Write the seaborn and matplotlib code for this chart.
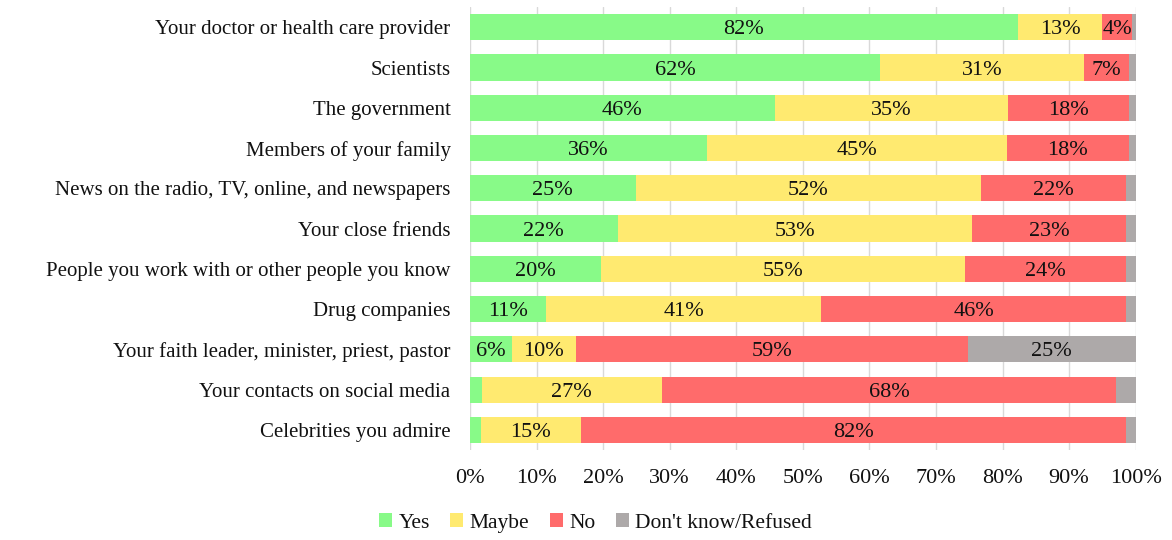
import matplotlib
matplotlib.use("Agg")
import matplotlib.pyplot as plt
import seaborn as sns
import pandas as pd
import numpy as np
from matplotlib.patches import Patch

categories = [
    "Your doctor or health care provider",
    "Scientists",
    "The government",
    "Members of your family",
    "News on the radio, TV, online, and newspapers",
    "Your close friends",
    "People you work with or other people you know",
    "Drug companies",
    "Your faith leader, minister, priest, pastor",
    "Your contacts on social media",
    "Celebrities you admire",
]
yes = [82.3, 61.6, 45.8, 35.6, 24.9, 22.2, 19.7, 11.4, 6.3, 1.8, 1.6]
maybe = [12.7, 30.6, 35.0, 45.0, 51.8, 53.2, 54.6, 41.4, 9.6, 27.0, 15.1]
no = [4.4, 6.8, 18.2, 18.4, 21.9, 23.2, 24.3, 45.8, 58.9, 68.3, 81.9]
dk = [0.6, 1.0, 1.0, 1.0, 1.4, 1.4, 1.4, 1.4, 25.2, 2.9, 1.4]

series_names = ["Yes", "Maybe", "No", "Don't know/Refused"]
colors = ["#88FA88", "#FFEA70", "#FF6B6B", "#ADA9A9"]
tick_labels = ["0%", "10%", "20%", "30%", "40%", "50%", "60%", "70%", "80%", "90%", "100%"]

sns.set_theme(style="white")
plt.rcParams["font.family"] = ["Liberation Serif", "DejaVu Serif"]
plt.rcParams["text.color"] = "#111111"
plt.rcParams["xtick.color"] = "#111111"
plt.rcParams["ytick.color"] = "#111111"

df = pd.DataFrame({"cat": categories, "Yes": yes, "Maybe": maybe, "No": no, "Don't know/Refused": dk})
vals = df[series_names].values
cum = np.cumsum(vals, axis=1)

fig = plt.figure(figsize=(11.72, 5.4), dpi=100)
ax = fig.add_axes([0.401, 0.1667, 0.568, 0.82])

# draw from back (full cumulative) to front
for i in range(3, -1, -1):
    sns.barplot(x=cum[:, i], y=categories, color=colors[i], orient="h",
                width=0.65, ax=ax, saturation=1, edgecolor="none", linewidth=0)

# labels
for r in range(len(categories)):
    left = 0
    for i in range(4):
        v = vals[r, i]
        if v >= 4:
            ax.text(left + v / 2, r, f"{round(v):.0f}%", ha="center", va="center_baseline",
                    fontsize=16, color="#111111")
        left += v

ax.set_xlim(0, 100)
ax.set_ylim(10.5, -0.5)
ax.set_xticks(np.arange(0, 101, 10))
ax.set_xticklabels(tick_labels, fontsize=16)
ax.tick_params(axis="y", labelsize=15, length=0, pad=14)
ax.tick_params(axis="x", length=0, pad=14)
ax.set_xlabel("")
ax.set_ylabel("")
ax.grid(axis="x", color="#D9D9D9", linewidth=1)
ax.set_axisbelow(True)
for s in ax.spines.values():
    s.set_visible(False)

handles = [Patch(facecolor=c, edgecolor="none") for c in colors]
fig.legend(handles, series_names, loc="lower center", bbox_to_anchor=(0.508, -0.022),
           ncol=4, frameon=False, fontsize=15.5, handlelength=0.6, handleheight=0.6,
           handletextpad=0.3, columnspacing=0.95)

fig.savefig("out.png", dpi=100)
